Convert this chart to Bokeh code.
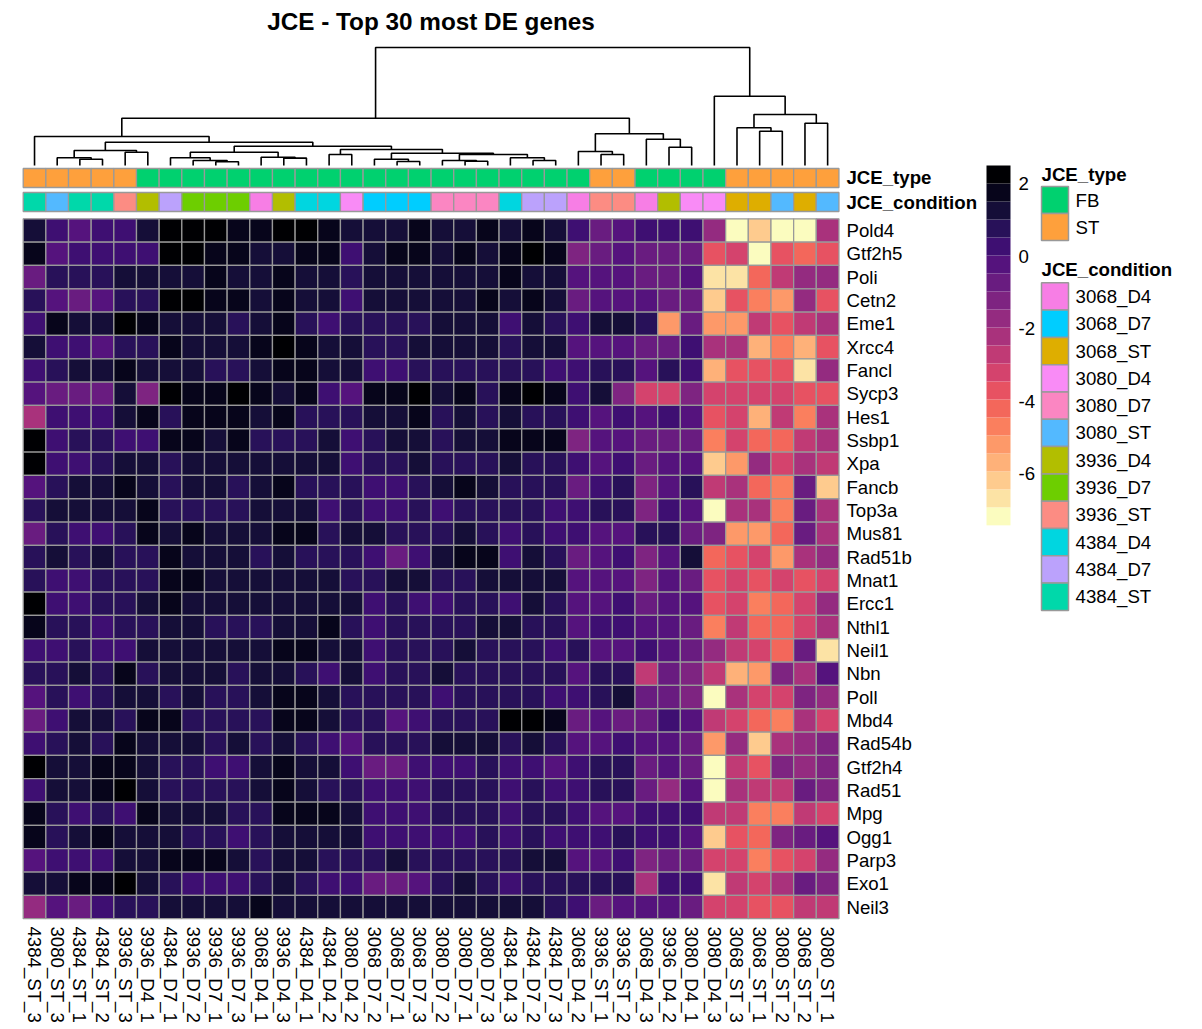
import numpy as np
from bokeh.plotting import figure
from bokeh.models import Range1d, ColumnDataSource, LinearColorMapper
from bokeh.palettes import magma
from bokeh.transform import transform
from bokeh.embed import file_html
from bokeh.resources import INLINE
from bokeh.core.properties import value

# ---------------- data ----------------
title = "JCE - Top 30 most DE genes"

samples = ["4384_ST_3", "3080_ST_3", "4384_ST_1", "4384_ST_2", "3936_ST_3", "3936_D4_1",
           "4384_D7_1", "3936_D7_2", "3936_D7_1", "3936_D7_3", "3068_D4_1", "3936_D4_3",
           "4384_D4_1", "4384_D4_2", "3080_D4_2", "3068_D7_2", "3068_D7_1", "3068_D7_3",
           "3080_D7_2", "3080_D7_1", "3080_D7_3", "4384_D4_3", "4384_D7_2", "4384_D7_3",
           "3068_D4_2", "3936_ST_1", "3936_ST_2", "3068_D4_3", "3936_D4_2", "3080_D4_1",
           "3080_D4_3", "3068_ST_3", "3068_ST_1", "3080_ST_2", "3068_ST_2", "3080_ST_1"]

genes = ["Pold4", "Gtf2h5", "Poli", "Cetn2", "Eme1", "Xrcc4", "Fancl", "Sycp3", "Hes1", "Ssbp1",
         "Xpa", "Fancb", "Top3a", "Mus81", "Rad51b", "Mnat1", "Ercc1", "Nthl1", "Neil1", "Nbn",
         "Poll", "Mbd4", "Rad54b", "Gtf2h4", "Rad51", "Mpg", "Ogg1", "Parp3", "Exo1", "Neil3"]

pold4 = [1.2,0.3,-0.2,0.3,0.3,1.2,2.2,2.2,2.2,1.7,1.7,2.2,2.2,1.7,1.2,1.2,1.2,1.7, 1.2,1.2,1.7,1.2,1.7,1.2,0.3,-0.7,-0.2,0.3,0.3,0.3,-1.7,-7.2,-6.2,-7.2,-7.2,-2.2]
gtf2h5 = [1.7,-0.2,0.3,0.3,0.3,0.3,2.2,2.2,1.7,1.7,1.2,1.2,1.7,1.7,0.3,1.2,1.7,1.7, 1.2,1.7,1.2,1.7,2.2,1.7,-1.2,-0.7,-0.2,-0.7,-0.7,-0.7,-3.7,-3.2,-7.2,-3.7,-4.2,-3.7]
poli = [-0.7,0.8,0.8,0.8,1.2,1.2,1.2,1.2,1.7,1.2,1.2,1.7,1.2,1.2,0.8,1.2,1.2,1.2, 1.2,1.2,1.2,1.7,1.2,1.2,-0.2,-0.2,-0.2,-0.7,-0.7,-0.2,-6.7,-6.7,-4.2,-2.7,-1.7,-1.7]
cetn2 = [0.8,-0.2,-0.7,-0.2,0.8,0.8,2.2,2.2,1.7,1.7,1.2,1.7,1.2,1.2,0.3,1.2,1.2,1.2, 1.2,1.2,1.7,1.2,1.7,1.2,-0.7,-0.2,-0.2,-0.2,-0.7,-0.7,-6.2,-3.7,-4.7,-5.2,-1.7,-3.7]
eme1 = [0.3,1.7,1.2,1.2,2.2,1.7,1.2,1.2,1.2,0.8,1.2,1.7,0.8,0.3,0.8,0.8,0.8,0.8, 1.2,1.2,1.2,0.3,1.2,0.8,0.3,1.2,1.2,0.8,-5.2,-0.7,-5.2,-5.2,-2.7,-3.7,-2.7,-2.2]
xrcc4 = [1.2,0.3,0.3,-0.2,0.8,0.8,1.7,1.2,1.2,1.2,1.7,2.2,1.7,1.2,1.2,0.8,0.8,1.2, 1.2,1.2,1.2,0.8,1.2,1.2,-0.2,-0.2,-0.2,-0.7,-0.7,0.3,-2.2,-2.2,-5.7,-4.7,-5.7,-3.7]
fancl = [0.3,0.8,1.2,1.2,1.7,1.2,1.2,1.2,0.8,0.8,1.2,1.7,1.7,1.2,1.2,0.3,0.3,0.8, 0.8,0.8,0.8,0.8,0.8,0.3,0.3,0.8,0.8,-0.2,0.8,0.3,-5.7,-3.7,-3.7,-3.7,-6.7,-1.7]
sycp3 = [-0.2,-0.7,-0.7,-0.7,1.2,-1.2,2.2,1.7,1.7,2.2,1.7,1.2,1.7,0.3,-0.2,1.7,1.7,2.2, 1.2,1.7,0.8,1.7,2.2,1.7,0.3,1.2,-1.2,-3.2,-3.2,-1.2,-3.2,-3.2,-3.2,-3.2,-3.7,-3.7]
hes1 = [-2.2,0.3,0.3,0.3,1.2,1.7,0.8,1.7,1.7,1.7,1.2,1.7,0.8,0.8,0.8,1.2,1.2,1.7, 0.8,1.2,0.8,1.2,0.8,0.8,0.3,-0.2,0.3,-0.2,0.3,-0.2,-3.7,-3.2,-5.7,-2.7,-4.7,-2.2]
ssbp1 = [2.2,0.3,0.8,0.8,0.3,0.3,1.7,1.7,1.2,1.7,0.8,0.8,0.8,1.2,0.3,0.8,1.2,1.2, 0.8,1.2,1.2,1.7,1.7,1.7,-1.2,-0.2,-0.2,-0.7,-0.7,-0.7,-4.7,-3.2,-4.2,-4.2,-2.7,-2.2]
xpa = [2.2,0.3,0.3,0.8,1.2,1.2,0.8,1.2,1.2,1.2,1.2,1.2,1.2,1.2,0.3,0.8,0.8,1.2, 0.8,0.8,0.8,1.2,0.8,0.8,0.3,-0.2,0.3,-0.7,-0.2,-0.2,-6.2,-5.2,-1.7,-3.2,-2.2,-2.7]
fancb = [-0.2,0.8,1.2,1.2,1.7,1.2,0.8,1.2,1.2,0.8,1.2,1.7,0.8,0.8,0.8,0.3,0.3,0.8, 1.2,1.7,1.2,0.8,0.8,0.8,-0.7,0.3,0.8,-1.2,-0.2,0.8,-2.7,-2.2,-4.2,-4.7,-0.7,-6.2]
top3a = [0.8,1.2,1.2,1.2,1.2,1.7,0.8,0.8,0.8,0.8,1.2,1.2,1.2,0.3,0.8,0.3,0.3,0.8, 0.3,0.8,0.8,0.8,0.8,0.3,0.3,0.8,0.8,-1.2,0.3,-0.2,-7.2,-2.2,-2.2,-4.7,-0.7,-2.2]
mus81 = [-0.7,0.8,0.3,0.3,0.8,1.7,1.2,1.7,1.2,1.2,1.2,1.7,1.7,0.8,1.2,1.2,0.8,0.8, 0.8,1.2,0.8,0.3,0.8,0.3,0.3,-0.2,-0.2,0.8,0.8,-0.7,-1.2,-5.2,-5.2,-4.2,-0.7,-2.2]
rad51b = [0.8,1.2,0.8,1.2,0.8,0.8,1.7,1.2,1.2,1.2,0.8,1.2,0.8,0.8,0.8,0.3,-0.7,0.3, 1.2,1.7,1.7,0.3,1.2,0.8,-0.7,-0.2,0.3,-1.2,-0.2,1.2,-4.2,-3.7,-3.2,-5.2,-2.2,-1.7]
mnat1 = [0.8,0.3,0.3,0.8,0.8,0.8,1.7,1.7,1.2,1.2,1.2,1.2,1.2,1.2,0.8,0.8,1.2,1.2, 0.8,0.8,1.2,1.2,1.2,1.2,-0.2,-0.2,-0.2,-1.2,-0.2,-0.7,-3.7,-3.2,-3.7,-3.2,-3.7,-3.2]
ercc1 = [2.2,0.3,0.3,0.8,0.8,1.2,1.7,1.2,1.2,1.2,1.2,1.2,1.2,1.2,1.2,0.3,0.8,0.3, 0.3,0.8,0.8,0.3,1.2,0.8,-0.2,-0.2,0.3,-0.7,-0.2,-0.2,-3.7,-3.2,-4.7,-4.2,-3.2,-1.7]
nthl1 = [1.7,0.8,0.8,0.3,0.8,0.8,1.2,1.2,0.8,0.8,0.8,1.2,1.2,1.7,0.8,0.3,0.8,0.8, 0.8,0.8,1.2,1.2,0.8,0.8,-0.2,0.3,0.3,-0.2,-0.2,-0.7,-4.7,-2.7,-4.2,-4.2,-3.2,-2.2]
neil1 = [0.3,0.3,0.8,0.3,0.3,1.2,1.2,1.2,1.2,1.2,1.2,1.7,1.7,1.2,1.2,0.3,0.8,0.8, 0.8,1.2,0.8,0.8,0.8,0.3,0.8,-0.2,-0.2,0.3,-0.2,-0.7,-1.7,-2.7,-3.2,-4.2,-0.7,-6.7]
nbn = [0.8,0.8,1.2,0.8,1.7,0.8,1.2,1.2,1.2,0.8,1.2,1.2,0.8,0.3,1.2,0.3,0.8,0.8, 1.2,0.8,0.8,0.8,0.8,0.8,-0.2,0.8,0.8,-2.7,-0.7,-1.2,-2.7,-5.7,-5.2,-1.2,-2.2,-0.2]
poll = [-0.2,0.8,0.3,0.8,1.2,1.2,0.8,1.2,0.8,0.8,1.2,1.7,1.7,1.2,0.8,0.8,0.8,0.8, 0.3,0.8,0.8,0.8,0.8,0.3,0.3,0.8,1.2,-0.7,-0.7,-1.2,-7.2,-2.2,-3.2,-3.2,-1.2,-1.7]
mbd4 = [-0.7,0.3,1.2,1.2,0.8,1.7,1.7,0.8,0.8,0.8,0.8,1.7,1.7,1.2,0.8,0.8,-0.2,0.3, 0.8,0.8,0.8,2.2,2.2,1.7,-0.7,-0.2,-0.7,-0.7,0.3,-0.2,-2.7,-3.2,-4.2,-4.7,-2.2,-3.2]
rad54b = [0.3,0.8,1.2,0.8,1.7,1.2,1.2,1.2,0.8,1.2,0.8,1.2,0.8,0.3,-0.2,0.8,0.8,0.8, 1.2,1.2,1.2,0.8,1.2,0.8,-0.2,-0.2,0.3,-0.2,-0.2,-0.7,-5.2,-1.7,-6.2,-2.2,-1.7,-1.2]
gtf2h4 = [2.2,1.2,1.2,1.7,1.7,1.2,0.8,0.8,0.3,0.3,1.2,1.7,1.2,1.2,0.3,-0.7,-0.7,0.3, 0.3,0.3,0.8,0.3,0.3,-0.2,0.3,0.8,0.8,-0.7,-0.2,-0.7,-7.2,-2.7,-3.7,-1.2,-1.7,-1.2]
rad51 = [0.3,1.2,1.2,1.7,2.2,1.2,0.8,0.8,0.8,0.8,1.2,1.7,1.2,0.8,0.8,0.3,0.3,0.3, 0.8,0.8,0.8,0.3,0.8,0.3,0.3,0.8,0.8,-0.7,-1.7,-0.2,-7.2,-2.2,-2.7,-2.7,-0.7,-1.2]
mpg = [1.7,0.8,0.3,0.8,0.3,1.7,1.2,1.2,1.2,0.8,0.8,1.7,1.7,1.7,1.2,0.3,0.3,0.3, 0.8,0.8,0.8,0.3,0.8,0.8,0.3,-0.2,-0.2,0.3,0.3,0.3,-2.7,-2.7,-4.7,-4.7,-2.7,-3.2]
ogg1 = [1.7,0.8,1.2,1.7,1.2,1.2,1.2,0.8,0.8,0.3,0.8,1.2,1.2,1.2,1.2,0.3,0.3,0.3, 0.3,0.3,0.8,0.3,0.8,0.3,0.3,0.3,0.8,0.3,0.3,-0.2,-6.2,-3.7,-4.2,-1.2,-0.7,-0.2]
parp3 = [-0.2,0.3,0.3,0.3,1.2,1.2,1.7,1.7,1.7,1.2,0.8,1.2,1.2,0.8,0.8,0.8,1.2,0.8, 0.8,0.8,0.8,0.8,1.2,1.2,-0.2,-0.2,0.3,-1.2,-0.7,-0.7,-3.2,-3.2,-4.7,-3.7,-3.2,-1.7]
exo1 = [1.2,1.2,1.7,1.7,2.2,1.2,0.8,0.3,0.3,0.3,0.8,1.2,0.8,0.3,0.3,-0.7,-0.7,-0.2, 0.8,1.2,0.8,0.3,0.8,0.8,0.8,0.8,0.8,-2.2,0.3,0.3,-6.7,-2.7,-3.2,-2.2,-0.7,-1.2]
neil3 = [-1.7,-0.2,-0.7,0.3,0.8,0.8,1.2,1.2,1.2,1.2,1.7,1.2,1.2,1.2,1.2,1.2,1.2,1.2, 1.2,1.2,1.2,1.2,1.2,0.8,0.3,-0.7,-0.2,-0.2,-0.2,-0.7,-3.2,-3.2,-3.7,-3.7,-2.7,-2.7]

rows = [pold4, gtf2h5, poli, cetn2, eme1, xrcc4, fancl, sycp3, hes1, ssbp1, xpa, fancb,
        top3a, mus81, rad51b, mnat1, ercc1, nthl1, neil1, nbn, poll, mbd4, rad54b, gtf2h4,
        rad51, mpg, ogg1, parp3, exo1, neil3]

# column dendrogram (hierarchical merges: leaf ids 0..35, clusters 36.. in order)
merge_a = [2, 1, 4, 37, 8, 7, 6, 11, 10, 42, 13, 16, 15, 19, 18, 22, 21, 50, 48, 46, 45, 39,
           0, 25, 24, 28, 27, 60, 58, 32, 31, 34, 66, 30, 64]
merge_b = [3, 36, 5, 38, 9, 40, 41, 12, 43, 44, 14, 17, 47, 20, 49, 23, 51, 52, 53, 54, 55, 56,
           57, 26, 59, 29, 61, 62, 63, 33, 65, 35, 67, 68, 69]
merge_h = [0.63, 0.77, 1.33, 1.50, 0.37, 0.50, 0.77, 0.74, 0.83, 1.33, 1.10, 0.40, 0.63, 0.43,
           0.50, 0.50, 0.77, 1.10, 1.23, 1.60, 1.93, 2.33, 2.90, 1.10, 1.40, 1.83, 2.63, 3.17,
           4.73, 3.43, 3.77, 4.23, 5.10, 6.93, 11.80]

type_levels = ["FB", "ST"]
type_colors = ["#00D16F", "#FEA03C"]
cond_levels = ["3068_D4", "3068_D7", "3068_ST", "3080_D4", "3080_D7", "3080_ST",
               "3936_D4", "3936_D7", "3936_ST", "4384_D4", "4384_D7", "4384_ST"]
cond_colors = ["#F77EE5", "#00CDFF", "#DEAE00", "#F98BF6", "#FB86C2", "#53B9FF",
               "#B2BE00", "#6DCE00", "#FC8C83", "#00D6E0", "#BBA2FC", "#00D8AA"]

scale_min, scale_max = -7.42, 2.49
scale_ticks = [2, 0, -2, -4, -6]

# ---------------- figure ----------------
FONT = value("Liberation Sans")
FS = "18.67px"
GRID = "#999999"
W, H = 1200, 1027

p = figure(width=W, height=H, output_backend="svg", toolbar_location=None,
           x_range=Range1d((0 - 22.7) / 22.66, (W - 22.7) / 22.66),
           y_range=Range1d((H - 218.3) / 23.33, (0 - 218.3) / 23.33),
           x_axis_location=None, y_axis_location=None, min_border=0,
           outline_line_color=None, background_fill_color="white", border_fill_color="white")
p.grid.visible = False
p.extra_x_ranges = {"px": Range1d(0, W)}
p.extra_y_ranges = {"px": Range1d(H, 0),
                    "dend": Range1d((165 - H) / 10, 165 / 10),
                    "cbar": Range1d((255.5 - H) / 36.3, 255.5 / 36.3)}

ncol, nrow = len(samples), len(genes)
palette = list(reversed(magma(20)))
mapper = LinearColorMapper(palette=palette, low=scale_min, high=scale_max)

# heatmap cells
xs, ys, vs = [], [], []
for r, rowvals in enumerate(rows):
    for c, v in enumerate(rowvals):
        xs.append(c + 0.5)
        ys.append(r + 0.5)
        vs.append(v)
src = ColumnDataSource(dict(x=xs, y=ys, v=vs))
p.rect(x="x", y="y", width=1, height=1, source=src, fill_color=transform("v", mapper),
       line_color=GRID, line_width=1.3)

# annotation rows
col_x = [c + 0.5 for c in range(ncol)]
s_type = ["ST" if "_ST_" in s else "FB" for s in samples]
s_cond = [s.rsplit("_", 1)[0] for s in samples]
p.rect(x=col_x, y=-1.749, width=1, height=0.814,
       fill_color=[type_colors[type_levels.index(t)] for t in s_type],
       line_color=GRID, line_width=1.3)
p.rect(x=col_x, y=-0.72, width=1, height=0.814,
       fill_color=[cond_colors[cond_levels.index(t)] for t in s_cond],
       line_color=GRID, line_width=1.3)

# dendrogram
pos = {i: (i + 0.5, 0.0) for i in range(ncol)}
dxs, dys = [], []
for k, (a, b, h) in enumerate(zip(merge_a, merge_b, merge_h)):
    xa, ha = pos[a]
    xb, hb = pos[b]
    dxs.append([xa, xa, xb, xb])
    dys.append([ha, h, h, hb])
    pos[ncol + k] = ((xa + xb) / 2, h)
p.multi_line(xs=dxs, ys=dys, y_range_name="dend", line_color="black", line_width=1.6)

# labels
p.text(x=col_x, y=30.33, text=samples, angle=-np.pi / 2, text_align="left",
       text_baseline="middle", text_font=FONT, text_font_size=FS, text_color="black")
p.text(x=36.33, y=[r + 0.5 for r in range(nrow)], text=genes, text_align="left",
       text_baseline="middle", text_font=FONT, text_font_size=FS, text_color="black")
p.text(x=36.33, y=[-1.749, -0.72], text=["JCE_type", "JCE_condition"], text_align="left",
       text_baseline="middle", text_font=FONT, text_font_size=FS, text_font_style="bold")

# title
p.text(x=[430.5], y=[21], text=[title], x_range_name="px", y_range_name="px",
       text_align="center", text_baseline="middle", text_font=FONT,
       text_font_size="24.3px", text_font_style="bold")

# colour scale legend
edges = np.linspace(scale_min, scale_max, len(palette) + 1)
p.rect(x=998, y=(edges[:-1] + edges[1:]) / 2, width=24, height=edges[1] - edges[0],
       x_range_name="px", y_range_name="cbar", fill_color=palette, line_color=None)
p.text(x=1018, y=scale_ticks, text=[str(t) for t in scale_ticks], x_range_name="px",
       y_range_name="cbar", text_align="left", text_baseline="middle", text_font=FONT,
       text_font_size=FS)

# type legend
p.text(x=[1041], y=[174], text=["JCE_type"], x_range_name="px", y_range_name="px",
       text_align="left", text_baseline="middle", text_font=FONT, text_font_size=FS,
       text_font_style="bold")
ty = [199.5 + 27 * i for i in range(len(type_levels))]
p.rect(x=1054.5, y=ty, width=27, height=27, x_range_name="px", y_range_name="px",
       fill_color=type_colors, line_color=GRID, line_width=1.5)
p.text(x=1075, y=ty, text=type_levels, x_range_name="px", y_range_name="px",
       text_align="left", text_baseline="middle", text_font=FONT, text_font_size=FS)

# condition legend
p.text(x=[1041], y=[269], text=["JCE_condition"], x_range_name="px", y_range_name="px",
       text_align="left", text_baseline="middle", text_font=FONT, text_font_size=FS,
       text_font_style="bold")
cy = [282.3 + 27.3 * (i + 0.5) for i in range(len(cond_levels))]
p.rect(x=1054.5, y=cy, width=27, height=27.3, x_range_name="px", y_range_name="px",
       fill_color=cond_colors, line_color=GRID, line_width=1.5)
p.text(x=1075, y=cy, text=cond_levels, x_range_name="px", y_range_name="px",
       text_align="left", text_baseline="middle", text_font=FONT, text_font_size=FS)

open("out.html", "w").write(file_html(p, INLINE))
